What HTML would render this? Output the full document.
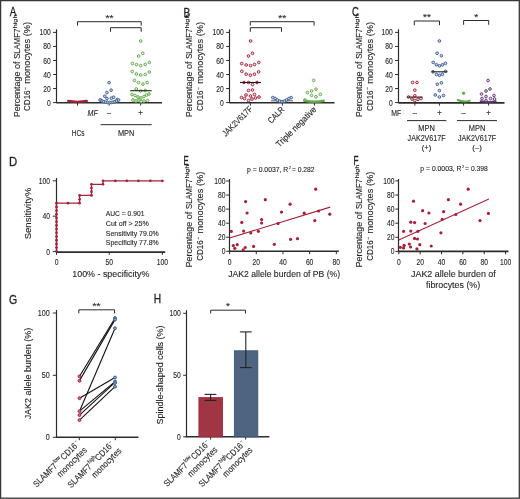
<!DOCTYPE html>
<html><head><meta charset="utf-8"><style>
html,body{margin:0;padding:0;background:#fff;}
svg{display:block;font-family:"Liberation Sans", sans-serif;will-change:transform;}
</style></head><body>
<svg width="520" height="499" viewBox="0 0 520 499">
<rect width="520" height="499" fill="#fff"/>
<rect x="0.6" y="0.6" width="518.7" height="497.6" fill="none" stroke="#363636" stroke-width="1.3"/>
<text x="9.80" y="16.42" font-size="12.2" fill="#231f20" stroke="#231f20" stroke-width="0.3" textLength="6.60" lengthAdjust="spacingAndGlyphs">A</text>
<g transform="translate(19.60,117.20) rotate(-90)"><text x="0.00" y="0.00" font-size="8.8" text-anchor="start" fill="#231f20" stroke="#231f20" stroke-width="0.12" textLength="55.60" lengthAdjust="spacingAndGlyphs">Percentage of</text><text x="58.40" y="0.00" font-size="8.8" text-anchor="start" fill="#231f20" stroke="#231f20" stroke-width="0.12" textLength="30.00" lengthAdjust="spacingAndGlyphs">SLAMF7</text><text x="88.80" y="-3.00" font-size="5.6" text-anchor="start" fill="#231f20" stroke="#231f20" stroke-width="0.12" textLength="14.00" lengthAdjust="spacingAndGlyphs">high</text></g>
<g transform="translate(30.40,111.00) rotate(-90)"><text x="0.00" y="0.00" font-size="8.8" text-anchor="start" fill="#231f20" stroke="#231f20" stroke-width="0.12" textLength="20.60" lengthAdjust="spacingAndGlyphs">CD16</text><text x="21.10" y="-3.40" font-size="5.5" text-anchor="start" fill="#231f20" stroke="#231f20" stroke-width="0.12" textLength="3.00" lengthAdjust="spacingAndGlyphs">−</text><text x="27.20" y="0.00" font-size="8.8" text-anchor="start" fill="#231f20" stroke="#231f20" stroke-width="0.12" textLength="62.00" lengthAdjust="spacingAndGlyphs">monocytes (%)</text></g>
<line x1="56.50" y1="29.30" x2="56.50" y2="103.10" stroke="#2b2b2b" stroke-width="1.2" />
<line x1="53.10" y1="102.60" x2="56.50" y2="102.60" stroke="#2b2b2b" stroke-width="1.0" />
<text x="50.70" y="105.62" font-size="8.4" text-anchor="end" fill="#231f20" stroke="#231f20" stroke-width="0.12" textLength="3.75" lengthAdjust="spacingAndGlyphs">0</text>
<line x1="53.10" y1="88.56" x2="56.50" y2="88.56" stroke="#2b2b2b" stroke-width="1.0" />
<text x="50.70" y="91.58" font-size="8.4" text-anchor="end" fill="#231f20" stroke="#231f20" stroke-width="0.12" textLength="7.50" lengthAdjust="spacingAndGlyphs">20</text>
<line x1="53.10" y1="74.52" x2="56.50" y2="74.52" stroke="#2b2b2b" stroke-width="1.0" />
<text x="50.70" y="77.54" font-size="8.4" text-anchor="end" fill="#231f20" stroke="#231f20" stroke-width="0.12" textLength="7.50" lengthAdjust="spacingAndGlyphs">40</text>
<line x1="53.10" y1="60.48" x2="56.50" y2="60.48" stroke="#2b2b2b" stroke-width="1.0" />
<text x="50.70" y="63.50" font-size="8.4" text-anchor="end" fill="#231f20" stroke="#231f20" stroke-width="0.12" textLength="7.50" lengthAdjust="spacingAndGlyphs">60</text>
<line x1="53.10" y1="46.44" x2="56.50" y2="46.44" stroke="#2b2b2b" stroke-width="1.0" />
<text x="50.70" y="49.46" font-size="8.4" text-anchor="end" fill="#231f20" stroke="#231f20" stroke-width="0.12" textLength="7.50" lengthAdjust="spacingAndGlyphs">80</text>
<line x1="53.10" y1="32.40" x2="56.50" y2="32.40" stroke="#2b2b2b" stroke-width="1.0" />
<text x="50.70" y="35.42" font-size="8.4" text-anchor="end" fill="#231f20" stroke="#231f20" stroke-width="0.12" textLength="11.25" lengthAdjust="spacingAndGlyphs">100</text>
<line x1="56.50" y1="102.80" x2="162.00" y2="102.80" stroke="#2b2b2b" stroke-width="1.6" />
<line x1="77.50" y1="102.80" x2="77.50" y2="105.60" stroke="#2b2b2b" stroke-width="1.0" />
<line x1="109.10" y1="102.80" x2="109.10" y2="105.60" stroke="#2b2b2b" stroke-width="1.0" />
<line x1="140.70" y1="102.80" x2="140.70" y2="105.60" stroke="#2b2b2b" stroke-width="1.0" />
<polyline points="77.50,25.60 77.50,21.70 141.20,21.70 141.20,25.60" stroke="#2b2b2b" stroke-width="1.0" fill="none"/>
<polyline points="110.50,31.80 110.50,27.70 141.20,27.70 141.20,31.80" stroke="#2b2b2b" stroke-width="1.0" fill="none"/>
<text x="109.50" y="21.24" font-size="9.0" text-anchor="middle" fill="#231f20" stroke="#231f20" stroke-width="0.12" textLength="8.00" lengthAdjust="spacingAndGlyphs">**</text>
<path d="M68.2,101.0 Q77.5,102.6 86.8,101.0" stroke="#a3223a" stroke-width="2.3" fill="none" stroke-linecap="round"/>
<circle cx="109.10" cy="82.60" r="1.35" stroke="#3f5e8e" stroke-width="0.95" fill="#c9d4e6"/>
<circle cx="111.10" cy="90.20" r="1.35" stroke="#3f5e8e" stroke-width="0.95" fill="#c9d4e6"/>
<circle cx="106.90" cy="92.50" r="1.35" stroke="#3f5e8e" stroke-width="0.95" fill="#c9d4e6"/>
<circle cx="104.80" cy="96.20" r="1.35" stroke="#3f5e8e" stroke-width="0.95" fill="#c9d4e6"/>
<circle cx="107.00" cy="98.60" r="1.35" stroke="#3f5e8e" stroke-width="0.95" fill="#c9d4e6"/>
<circle cx="111.40" cy="98.20" r="1.35" stroke="#3f5e8e" stroke-width="0.95" fill="#c9d4e6"/>
<circle cx="113.60" cy="97.20" r="1.35" stroke="#3f5e8e" stroke-width="0.95" fill="#c9d4e6"/>
<circle cx="117.30" cy="99.50" r="1.35" stroke="#3f5e8e" stroke-width="0.95" fill="#c9d4e6"/>
<circle cx="100.60" cy="100.00" r="1.35" stroke="#3f5e8e" stroke-width="0.95" fill="#c9d4e6"/>
<circle cx="100.20" cy="100.00" r="1.35" stroke="#3f5e8e" stroke-width="0.95" fill="#c9d4e6"/>
<circle cx="102.04" cy="101.02" r="1.35" stroke="#3f5e8e" stroke-width="0.95" fill="#c9d4e6"/>
<circle cx="103.88" cy="101.70" r="1.35" stroke="#3f5e8e" stroke-width="0.95" fill="#c9d4e6"/>
<circle cx="105.72" cy="102.19" r="1.35" stroke="#3f5e8e" stroke-width="0.95" fill="#c9d4e6"/>
<circle cx="107.56" cy="102.50" r="1.35" stroke="#3f5e8e" stroke-width="0.95" fill="#c9d4e6"/>
<circle cx="109.40" cy="102.60" r="1.35" stroke="#3f5e8e" stroke-width="0.95" fill="#c9d4e6"/>
<circle cx="111.24" cy="102.50" r="1.35" stroke="#3f5e8e" stroke-width="0.95" fill="#c9d4e6"/>
<circle cx="113.08" cy="102.19" r="1.35" stroke="#3f5e8e" stroke-width="0.95" fill="#c9d4e6"/>
<circle cx="114.92" cy="101.70" r="1.35" stroke="#3f5e8e" stroke-width="0.95" fill="#c9d4e6"/>
<circle cx="116.76" cy="101.02" r="1.35" stroke="#3f5e8e" stroke-width="0.95" fill="#c9d4e6"/>
<circle cx="118.60" cy="100.00" r="1.35" stroke="#3f5e8e" stroke-width="0.95" fill="#c9d4e6"/>
<circle cx="140.70" cy="41.00" r="1.35" stroke="#62a94c" stroke-width="0.95" fill="#e3f1dc"/>
<circle cx="142.80" cy="53.30" r="1.35" stroke="#62a94c" stroke-width="0.95" fill="#e3f1dc"/>
<circle cx="138.70" cy="56.00" r="1.35" stroke="#62a94c" stroke-width="0.95" fill="#e3f1dc"/>
<circle cx="132.40" cy="63.50" r="1.35" stroke="#62a94c" stroke-width="0.95" fill="#e3f1dc"/>
<circle cx="136.50" cy="64.70" r="1.35" stroke="#62a94c" stroke-width="0.95" fill="#e3f1dc"/>
<circle cx="140.70" cy="65.60" r="1.35" stroke="#62a94c" stroke-width="0.95" fill="#e3f1dc"/>
<circle cx="145.20" cy="64.40" r="1.35" stroke="#62a94c" stroke-width="0.95" fill="#e3f1dc"/>
<circle cx="149.30" cy="62.50" r="1.35" stroke="#62a94c" stroke-width="0.95" fill="#e3f1dc"/>
<circle cx="132.20" cy="71.50" r="1.35" stroke="#62a94c" stroke-width="0.95" fill="#e3f1dc"/>
<circle cx="136.40" cy="74.00" r="1.35" stroke="#62a94c" stroke-width="0.95" fill="#e3f1dc"/>
<circle cx="140.70" cy="75.00" r="1.35" stroke="#62a94c" stroke-width="0.95" fill="#e3f1dc"/>
<circle cx="145.20" cy="74.50" r="1.35" stroke="#62a94c" stroke-width="0.95" fill="#e3f1dc"/>
<circle cx="149.30" cy="72.00" r="1.35" stroke="#62a94c" stroke-width="0.95" fill="#e3f1dc"/>
<circle cx="134.40" cy="80.30" r="1.35" stroke="#62a94c" stroke-width="0.95" fill="#e3f1dc"/>
<circle cx="138.50" cy="82.60" r="1.35" stroke="#62a94c" stroke-width="0.95" fill="#e3f1dc"/>
<circle cx="143.00" cy="84.20" r="1.35" stroke="#62a94c" stroke-width="0.95" fill="#e3f1dc"/>
<circle cx="147.10" cy="82.60" r="1.35" stroke="#62a94c" stroke-width="0.95" fill="#e3f1dc"/>
<circle cx="136.30" cy="89.00" r="1.35" stroke="#62a94c" stroke-width="0.95" fill="#e3f1dc"/>
<circle cx="140.70" cy="91.00" r="1.35" stroke="#62a94c" stroke-width="0.95" fill="#e3f1dc"/>
<circle cx="145.20" cy="90.50" r="1.35" stroke="#62a94c" stroke-width="0.95" fill="#e3f1dc"/>
<circle cx="132.00" cy="94.50" r="1.35" stroke="#62a94c" stroke-width="0.95" fill="#e3f1dc"/>
<circle cx="135.00" cy="95.50" r="1.35" stroke="#62a94c" stroke-width="0.95" fill="#e3f1dc"/>
<circle cx="138.00" cy="97.00" r="1.35" stroke="#62a94c" stroke-width="0.95" fill="#e3f1dc"/>
<circle cx="141.00" cy="98.00" r="1.35" stroke="#62a94c" stroke-width="0.95" fill="#e3f1dc"/>
<circle cx="144.00" cy="96.50" r="1.35" stroke="#62a94c" stroke-width="0.95" fill="#e3f1dc"/>
<circle cx="146.50" cy="95.00" r="1.35" stroke="#62a94c" stroke-width="0.95" fill="#e3f1dc"/>
<circle cx="149.00" cy="94.00" r="1.35" stroke="#62a94c" stroke-width="0.95" fill="#e3f1dc"/>
<circle cx="133.00" cy="100.00" r="1.35" stroke="#62a94c" stroke-width="0.95" fill="#e3f1dc"/>
<circle cx="136.00" cy="101.00" r="1.35" stroke="#62a94c" stroke-width="0.95" fill="#e3f1dc"/>
<circle cx="139.00" cy="100.00" r="1.35" stroke="#62a94c" stroke-width="0.95" fill="#e3f1dc"/>
<circle cx="141.00" cy="101.50" r="1.35" stroke="#62a94c" stroke-width="0.95" fill="#e3f1dc"/>
<circle cx="144.00" cy="101.00" r="1.35" stroke="#62a94c" stroke-width="0.95" fill="#e3f1dc"/>
<circle cx="147.50" cy="100.50" r="1.35" stroke="#62a94c" stroke-width="0.95" fill="#e3f1dc"/>
<line x1="130.20" y1="90.70" x2="151.60" y2="90.70" stroke="#1e1e1e" stroke-width="1.1" />
<text x="87.60" y="116.00" font-size="8.6" text-anchor="start" fill="#231f20" font-style="italic" stroke="#231f20" stroke-width="0.12" textLength="10.20" lengthAdjust="spacingAndGlyphs">MF</text>
<text x="109.10" y="116.30" font-size="8.6" text-anchor="middle" fill="#231f20" stroke="#231f20" stroke-width="0.12" textLength="4.00" lengthAdjust="spacingAndGlyphs">–</text>
<text x="140.60" y="116.30" font-size="8.6" text-anchor="middle" fill="#231f20" stroke="#231f20" stroke-width="0.12" textLength="4.60" lengthAdjust="spacingAndGlyphs">+</text>
<line x1="100.60" y1="124.70" x2="151.70" y2="124.70" stroke="#2b2b2b" stroke-width="1.0" />
<text x="78.10" y="135.57" font-size="8.8" text-anchor="middle" fill="#231f20" stroke="#231f20" stroke-width="0.12" textLength="12.80" lengthAdjust="spacingAndGlyphs">HCs</text>
<text x="126.10" y="135.57" font-size="8.8" text-anchor="middle" fill="#231f20" stroke="#231f20" stroke-width="0.12" textLength="16.40" lengthAdjust="spacingAndGlyphs">MPN</text>
<text x="183.40" y="16.72" font-size="12.2" fill="#231f20" stroke="#231f20" stroke-width="0.3" textLength="6.80" lengthAdjust="spacingAndGlyphs">B</text>
<g transform="translate(192.20,117.20) rotate(-90)"><text x="0.00" y="0.00" font-size="8.8" text-anchor="start" fill="#231f20" stroke="#231f20" stroke-width="0.12" textLength="55.60" lengthAdjust="spacingAndGlyphs">Percentage of</text><text x="58.40" y="0.00" font-size="8.8" text-anchor="start" fill="#231f20" stroke="#231f20" stroke-width="0.12" textLength="30.00" lengthAdjust="spacingAndGlyphs">SLAMF7</text><text x="88.80" y="-3.00" font-size="5.6" text-anchor="start" fill="#231f20" stroke="#231f20" stroke-width="0.12" textLength="14.00" lengthAdjust="spacingAndGlyphs">high</text></g>
<g transform="translate(203.40,111.00) rotate(-90)"><text x="0.00" y="0.00" font-size="8.8" text-anchor="start" fill="#231f20" stroke="#231f20" stroke-width="0.12" textLength="20.60" lengthAdjust="spacingAndGlyphs">CD16</text><text x="21.10" y="-3.40" font-size="5.5" text-anchor="start" fill="#231f20" stroke="#231f20" stroke-width="0.12" textLength="3.00" lengthAdjust="spacingAndGlyphs">−</text><text x="27.20" y="0.00" font-size="8.8" text-anchor="start" fill="#231f20" stroke="#231f20" stroke-width="0.12" textLength="62.00" lengthAdjust="spacingAndGlyphs">monocytes (%)</text></g>
<line x1="229.50" y1="29.30" x2="229.50" y2="103.10" stroke="#2b2b2b" stroke-width="1.2" />
<line x1="226.10" y1="102.60" x2="229.50" y2="102.60" stroke="#2b2b2b" stroke-width="1.0" />
<text x="223.70" y="105.62" font-size="8.4" text-anchor="end" fill="#231f20" stroke="#231f20" stroke-width="0.12" textLength="3.75" lengthAdjust="spacingAndGlyphs">0</text>
<line x1="226.10" y1="88.56" x2="229.50" y2="88.56" stroke="#2b2b2b" stroke-width="1.0" />
<text x="223.70" y="91.58" font-size="8.4" text-anchor="end" fill="#231f20" stroke="#231f20" stroke-width="0.12" textLength="7.50" lengthAdjust="spacingAndGlyphs">20</text>
<line x1="226.10" y1="74.52" x2="229.50" y2="74.52" stroke="#2b2b2b" stroke-width="1.0" />
<text x="223.70" y="77.54" font-size="8.4" text-anchor="end" fill="#231f20" stroke="#231f20" stroke-width="0.12" textLength="7.50" lengthAdjust="spacingAndGlyphs">40</text>
<line x1="226.10" y1="60.48" x2="229.50" y2="60.48" stroke="#2b2b2b" stroke-width="1.0" />
<text x="223.70" y="63.50" font-size="8.4" text-anchor="end" fill="#231f20" stroke="#231f20" stroke-width="0.12" textLength="7.50" lengthAdjust="spacingAndGlyphs">60</text>
<line x1="226.10" y1="46.44" x2="229.50" y2="46.44" stroke="#2b2b2b" stroke-width="1.0" />
<text x="223.70" y="49.46" font-size="8.4" text-anchor="end" fill="#231f20" stroke="#231f20" stroke-width="0.12" textLength="7.50" lengthAdjust="spacingAndGlyphs">80</text>
<line x1="226.10" y1="32.40" x2="229.50" y2="32.40" stroke="#2b2b2b" stroke-width="1.0" />
<text x="223.70" y="35.42" font-size="8.4" text-anchor="end" fill="#231f20" stroke="#231f20" stroke-width="0.12" textLength="11.25" lengthAdjust="spacingAndGlyphs">100</text>
<line x1="229.50" y1="102.80" x2="334.50" y2="102.80" stroke="#2b2b2b" stroke-width="1.6" />
<line x1="250.40" y1="102.80" x2="250.40" y2="105.60" stroke="#2b2b2b" stroke-width="1.0" />
<line x1="282.40" y1="102.80" x2="282.40" y2="105.60" stroke="#2b2b2b" stroke-width="1.0" />
<line x1="314.40" y1="102.80" x2="314.40" y2="105.60" stroke="#2b2b2b" stroke-width="1.0" />
<polyline points="250.30,25.60 250.30,21.70 314.10,21.70 314.10,25.60" stroke="#2b2b2b" stroke-width="1.0" fill="none"/>
<polyline points="250.30,31.80 250.30,27.70 281.50,27.70 281.50,31.80" stroke="#2b2b2b" stroke-width="1.0" fill="none"/>
<text x="282.20" y="21.24" font-size="9.0" text-anchor="middle" fill="#231f20" stroke="#231f20" stroke-width="0.12" textLength="8.00" lengthAdjust="spacingAndGlyphs">**</text>
<circle cx="250.60" cy="41.00" r="1.35" stroke="#a3223a" stroke-width="0.95" fill="#f0d6da"/>
<circle cx="252.50" cy="53.30" r="1.35" stroke="#a3223a" stroke-width="0.95" fill="#f0d6da"/>
<circle cx="248.50" cy="56.00" r="1.35" stroke="#a3223a" stroke-width="0.95" fill="#f0d6da"/>
<circle cx="241.70" cy="63.60" r="1.35" stroke="#a3223a" stroke-width="0.95" fill="#f0d6da"/>
<circle cx="246.20" cy="65.00" r="1.35" stroke="#a3223a" stroke-width="0.95" fill="#f0d6da"/>
<circle cx="250.60" cy="65.60" r="1.35" stroke="#a3223a" stroke-width="0.95" fill="#f0d6da"/>
<circle cx="254.50" cy="64.50" r="1.35" stroke="#a3223a" stroke-width="0.95" fill="#f0d6da"/>
<circle cx="258.80" cy="62.50" r="1.35" stroke="#a3223a" stroke-width="0.95" fill="#f0d6da"/>
<circle cx="241.80" cy="71.30" r="1.35" stroke="#a3223a" stroke-width="0.95" fill="#f0d6da"/>
<circle cx="246.20" cy="74.20" r="1.35" stroke="#a3223a" stroke-width="0.95" fill="#f0d6da"/>
<circle cx="250.40" cy="75.20" r="1.35" stroke="#a3223a" stroke-width="0.95" fill="#f0d6da"/>
<circle cx="254.50" cy="74.20" r="1.35" stroke="#a3223a" stroke-width="0.95" fill="#f0d6da"/>
<circle cx="258.60" cy="71.90" r="1.35" stroke="#a3223a" stroke-width="0.95" fill="#f0d6da"/>
<circle cx="244.00" cy="82.50" r="1.35" stroke="#a3223a" stroke-width="0.95" fill="#f0d6da"/>
<circle cx="248.60" cy="82.50" r="1.35" stroke="#a3223a" stroke-width="0.95" fill="#f0d6da"/>
<circle cx="252.50" cy="84.50" r="1.35" stroke="#a3223a" stroke-width="0.95" fill="#f0d6da"/>
<circle cx="257.00" cy="82.50" r="1.35" stroke="#a3223a" stroke-width="0.95" fill="#f0d6da"/>
<circle cx="248.50" cy="90.50" r="1.35" stroke="#a3223a" stroke-width="0.95" fill="#f0d6da"/>
<circle cx="252.50" cy="90.00" r="1.35" stroke="#a3223a" stroke-width="0.95" fill="#f0d6da"/>
<circle cx="246.00" cy="95.00" r="1.35" stroke="#a3223a" stroke-width="0.95" fill="#f0d6da"/>
<circle cx="250.50" cy="96.00" r="1.35" stroke="#a3223a" stroke-width="0.95" fill="#f0d6da"/>
<circle cx="254.50" cy="94.50" r="1.35" stroke="#a3223a" stroke-width="0.95" fill="#f0d6da"/>
<circle cx="241.50" cy="97.50" r="1.35" stroke="#a3223a" stroke-width="0.95" fill="#f0d6da"/>
<circle cx="244.50" cy="98.50" r="1.35" stroke="#a3223a" stroke-width="0.95" fill="#f0d6da"/>
<circle cx="248.50" cy="100.50" r="1.35" stroke="#a3223a" stroke-width="0.95" fill="#f0d6da"/>
<circle cx="252.00" cy="99.00" r="1.35" stroke="#a3223a" stroke-width="0.95" fill="#f0d6da"/>
<circle cx="255.50" cy="98.00" r="1.35" stroke="#a3223a" stroke-width="0.95" fill="#f0d6da"/>
<circle cx="259.00" cy="97.00" r="1.35" stroke="#a3223a" stroke-width="0.95" fill="#f0d6da"/>
<line x1="240.00" y1="82.50" x2="261.00" y2="82.50" stroke="#1e1e1e" stroke-width="1.1" />
<line x1="271.00" y1="100.80" x2="293.00" y2="100.80" stroke="#6a6a6a" stroke-width="1.1" />
<circle cx="272.80" cy="97.60" r="1.35" stroke="#3f5e8e" stroke-width="0.95" fill="#c9d4e6"/>
<circle cx="275.10" cy="98.55" r="1.35" stroke="#3f5e8e" stroke-width="0.95" fill="#c9d4e6"/>
<circle cx="277.40" cy="99.98" r="1.35" stroke="#3f5e8e" stroke-width="0.95" fill="#c9d4e6"/>
<circle cx="279.70" cy="101.15" r="1.35" stroke="#3f5e8e" stroke-width="0.95" fill="#c9d4e6"/>
<circle cx="282.00" cy="101.60" r="1.35" stroke="#3f5e8e" stroke-width="0.95" fill="#c9d4e6"/>
<circle cx="284.30" cy="101.15" r="1.35" stroke="#3f5e8e" stroke-width="0.95" fill="#c9d4e6"/>
<circle cx="286.60" cy="99.98" r="1.35" stroke="#3f5e8e" stroke-width="0.95" fill="#c9d4e6"/>
<circle cx="288.90" cy="98.55" r="1.35" stroke="#3f5e8e" stroke-width="0.95" fill="#c9d4e6"/>
<circle cx="291.20" cy="97.60" r="1.35" stroke="#3f5e8e" stroke-width="0.95" fill="#c9d4e6"/>
<circle cx="313.70" cy="80.40" r="1.35" stroke="#62a94c" stroke-width="0.95" fill="#e3f1dc"/>
<circle cx="307.40" cy="92.60" r="1.35" stroke="#62a94c" stroke-width="0.95" fill="#e3f1dc"/>
<circle cx="311.60" cy="91.00" r="1.35" stroke="#62a94c" stroke-width="0.95" fill="#e3f1dc"/>
<circle cx="316.00" cy="89.20" r="1.35" stroke="#62a94c" stroke-width="0.95" fill="#e3f1dc"/>
<circle cx="311.60" cy="95.40" r="1.35" stroke="#62a94c" stroke-width="0.95" fill="#e3f1dc"/>
<circle cx="316.00" cy="96.80" r="1.35" stroke="#62a94c" stroke-width="0.95" fill="#e3f1dc"/>
<circle cx="320.30" cy="94.40" r="1.35" stroke="#62a94c" stroke-width="0.95" fill="#e3f1dc"/>
<circle cx="305.00" cy="100.00" r="1.35" stroke="#62a94c" stroke-width="0.95" fill="#e3f1dc"/>
<path d="M304.2,100.6 Q314,102.8 323.8,100.8" stroke="#62a94c" stroke-width="2.4" fill="none" stroke-linecap="round"/>
<g transform="translate(250.90,107.50) rotate(-45)"><text x="0.00" y="3.04" font-size="8.8" text-anchor="end" fill="#231f20" stroke="#231f20" stroke-width="0.12" textLength="38.60" lengthAdjust="spacingAndGlyphs">JAK2V617F</text></g>
<g transform="translate(282.80,108.10) rotate(-45)"><text x="0.00" y="3.04" font-size="8.8" text-anchor="end" fill="#231f20" stroke="#231f20" stroke-width="0.12" textLength="19.50" lengthAdjust="spacingAndGlyphs">CALR</text></g>
<g transform="translate(314.80,108.00) rotate(-45)"><text x="0.00" y="3.04" font-size="8.8" text-anchor="end" fill="#231f20" stroke="#231f20" stroke-width="0.12" textLength="53.00" lengthAdjust="spacingAndGlyphs">Triple negative</text></g>
<text x="352.00" y="16.42" font-size="12.2" fill="#231f20" stroke="#231f20" stroke-width="0.3" textLength="6.80" lengthAdjust="spacingAndGlyphs">C</text>
<g transform="translate(361.60,117.20) rotate(-90)"><text x="0.00" y="0.00" font-size="8.8" text-anchor="start" fill="#231f20" stroke="#231f20" stroke-width="0.12" textLength="55.60" lengthAdjust="spacingAndGlyphs">Percentage of</text><text x="58.40" y="0.00" font-size="8.8" text-anchor="start" fill="#231f20" stroke="#231f20" stroke-width="0.12" textLength="30.00" lengthAdjust="spacingAndGlyphs">SLAMF7</text><text x="88.80" y="-3.00" font-size="5.6" text-anchor="start" fill="#231f20" stroke="#231f20" stroke-width="0.12" textLength="14.00" lengthAdjust="spacingAndGlyphs">high</text></g>
<g transform="translate(372.80,111.00) rotate(-90)"><text x="0.00" y="0.00" font-size="8.8" text-anchor="start" fill="#231f20" stroke="#231f20" stroke-width="0.12" textLength="20.60" lengthAdjust="spacingAndGlyphs">CD16</text><text x="21.10" y="-3.40" font-size="5.5" text-anchor="start" fill="#231f20" stroke="#231f20" stroke-width="0.12" textLength="3.00" lengthAdjust="spacingAndGlyphs">−</text><text x="27.20" y="0.00" font-size="8.8" text-anchor="start" fill="#231f20" stroke="#231f20" stroke-width="0.12" textLength="62.00" lengthAdjust="spacingAndGlyphs">monocytes (%)</text></g>
<line x1="398.50" y1="29.30" x2="398.50" y2="103.10" stroke="#2b2b2b" stroke-width="1.2" />
<line x1="395.10" y1="102.60" x2="398.50" y2="102.60" stroke="#2b2b2b" stroke-width="1.0" />
<text x="392.70" y="105.62" font-size="8.4" text-anchor="end" fill="#231f20" stroke="#231f20" stroke-width="0.12" textLength="3.75" lengthAdjust="spacingAndGlyphs">0</text>
<line x1="395.10" y1="88.56" x2="398.50" y2="88.56" stroke="#2b2b2b" stroke-width="1.0" />
<text x="392.70" y="91.58" font-size="8.4" text-anchor="end" fill="#231f20" stroke="#231f20" stroke-width="0.12" textLength="7.50" lengthAdjust="spacingAndGlyphs">20</text>
<line x1="395.10" y1="74.52" x2="398.50" y2="74.52" stroke="#2b2b2b" stroke-width="1.0" />
<text x="392.70" y="77.54" font-size="8.4" text-anchor="end" fill="#231f20" stroke="#231f20" stroke-width="0.12" textLength="7.50" lengthAdjust="spacingAndGlyphs">40</text>
<line x1="395.10" y1="60.48" x2="398.50" y2="60.48" stroke="#2b2b2b" stroke-width="1.0" />
<text x="392.70" y="63.50" font-size="8.4" text-anchor="end" fill="#231f20" stroke="#231f20" stroke-width="0.12" textLength="7.50" lengthAdjust="spacingAndGlyphs">60</text>
<line x1="395.10" y1="46.44" x2="398.50" y2="46.44" stroke="#2b2b2b" stroke-width="1.0" />
<text x="392.70" y="49.46" font-size="8.4" text-anchor="end" fill="#231f20" stroke="#231f20" stroke-width="0.12" textLength="7.50" lengthAdjust="spacingAndGlyphs">80</text>
<line x1="395.10" y1="32.40" x2="398.50" y2="32.40" stroke="#2b2b2b" stroke-width="1.0" />
<text x="392.70" y="35.42" font-size="8.4" text-anchor="end" fill="#231f20" stroke="#231f20" stroke-width="0.12" textLength="11.25" lengthAdjust="spacingAndGlyphs">100</text>
<line x1="398.50" y1="102.90" x2="504.50" y2="102.90" stroke="#2b2b2b" stroke-width="1.6" />
<line x1="414.80" y1="102.90" x2="414.80" y2="105.60" stroke="#2b2b2b" stroke-width="1.0" />
<line x1="439.40" y1="102.90" x2="439.40" y2="105.60" stroke="#2b2b2b" stroke-width="1.0" />
<line x1="463.60" y1="102.90" x2="463.60" y2="105.60" stroke="#2b2b2b" stroke-width="1.0" />
<line x1="488.60" y1="102.90" x2="488.60" y2="105.60" stroke="#2b2b2b" stroke-width="1.0" />
<polyline points="414.30,25.20 414.30,21.00 439.50,21.00 439.50,25.20" stroke="#2b2b2b" stroke-width="1.0" fill="none"/>
<text x="427.00" y="20.34" font-size="9.0" text-anchor="middle" fill="#231f20" stroke="#231f20" stroke-width="0.12" textLength="8.00" lengthAdjust="spacingAndGlyphs">**</text>
<polyline points="463.60,24.80 463.60,20.50 488.70,20.50 488.70,24.80" stroke="#2b2b2b" stroke-width="1.0" fill="none"/>
<text x="476.20" y="19.84" font-size="9.0" text-anchor="middle" fill="#231f20" stroke="#231f20" stroke-width="0.12" textLength="4.00" lengthAdjust="spacingAndGlyphs">*</text>
<circle cx="412.60" cy="82.50" r="1.35" stroke="#a3223a" stroke-width="0.95" fill="#f0d6da"/>
<circle cx="417.00" cy="82.50" r="1.35" stroke="#a3223a" stroke-width="0.95" fill="#f0d6da"/>
<circle cx="414.80" cy="90.20" r="1.35" stroke="#a3223a" stroke-width="0.95" fill="#f0d6da"/>
<circle cx="414.80" cy="95.80" r="1.35" stroke="#a3223a" stroke-width="0.95" fill="#f0d6da"/>
<circle cx="408.50" cy="97.00" r="1.35" stroke="#a3223a" stroke-width="0.95" fill="#f0d6da"/>
<circle cx="412.00" cy="99.00" r="1.35" stroke="#a3223a" stroke-width="0.95" fill="#f0d6da"/>
<circle cx="414.80" cy="100.50" r="1.35" stroke="#a3223a" stroke-width="0.95" fill="#f0d6da"/>
<circle cx="418.00" cy="99.30" r="1.35" stroke="#a3223a" stroke-width="0.95" fill="#f0d6da"/>
<circle cx="421.00" cy="98.50" r="1.35" stroke="#a3223a" stroke-width="0.95" fill="#f0d6da"/>
<line x1="407.20" y1="97.10" x2="422.60" y2="97.10" stroke="#1e1e1e" stroke-width="1.1" />
<circle cx="439.40" cy="41.00" r="1.35" stroke="#3f5e8e" stroke-width="0.95" fill="#c9d4e6"/>
<circle cx="437.10" cy="53.30" r="1.35" stroke="#3f5e8e" stroke-width="0.95" fill="#c9d4e6"/>
<circle cx="441.40" cy="55.80" r="1.35" stroke="#3f5e8e" stroke-width="0.95" fill="#c9d4e6"/>
<circle cx="433.20" cy="62.40" r="1.35" stroke="#3f5e8e" stroke-width="0.95" fill="#c9d4e6"/>
<circle cx="436.40" cy="64.80" r="1.35" stroke="#3f5e8e" stroke-width="0.95" fill="#c9d4e6"/>
<circle cx="439.40" cy="65.80" r="1.35" stroke="#3f5e8e" stroke-width="0.95" fill="#c9d4e6"/>
<circle cx="442.40" cy="64.80" r="1.35" stroke="#3f5e8e" stroke-width="0.95" fill="#c9d4e6"/>
<circle cx="445.40" cy="63.30" r="1.35" stroke="#3f5e8e" stroke-width="0.95" fill="#c9d4e6"/>
<circle cx="433.00" cy="71.80" r="1.35" stroke="#3f5e8e" stroke-width="0.95" fill="#c9d4e6"/>
<circle cx="445.50" cy="71.30" r="1.35" stroke="#3f5e8e" stroke-width="0.95" fill="#c9d4e6"/>
<circle cx="436.40" cy="74.50" r="1.35" stroke="#3f5e8e" stroke-width="0.95" fill="#c9d4e6"/>
<circle cx="439.40" cy="75.30" r="1.35" stroke="#3f5e8e" stroke-width="0.95" fill="#c9d4e6"/>
<circle cx="442.40" cy="74.30" r="1.35" stroke="#3f5e8e" stroke-width="0.95" fill="#c9d4e6"/>
<circle cx="437.30" cy="84.30" r="1.35" stroke="#3f5e8e" stroke-width="0.95" fill="#c9d4e6"/>
<circle cx="441.40" cy="82.80" r="1.35" stroke="#3f5e8e" stroke-width="0.95" fill="#c9d4e6"/>
<circle cx="439.40" cy="90.60" r="1.35" stroke="#3f5e8e" stroke-width="0.95" fill="#c9d4e6"/>
<circle cx="435.30" cy="95.00" r="1.35" stroke="#3f5e8e" stroke-width="0.95" fill="#c9d4e6"/>
<circle cx="439.40" cy="97.00" r="1.35" stroke="#3f5e8e" stroke-width="0.95" fill="#c9d4e6"/>
<circle cx="443.50" cy="95.50" r="1.35" stroke="#3f5e8e" stroke-width="0.95" fill="#c9d4e6"/>
<line x1="431.60" y1="71.80" x2="447.40" y2="71.80" stroke="#1e1e1e" stroke-width="1.1" />
<circle cx="463.60" cy="93.20" r="1.6" fill="#62a94c"/>
<path d="M457.8,100.0 Q463.6,102.8 469.8,100.6" stroke="#62a94c" stroke-width="2.0" fill="none" stroke-linecap="round"/>
<circle cx="488.00" cy="80.50" r="1.35" stroke="#663a78" stroke-width="0.95" fill="#e2d6e6"/>
<circle cx="486.00" cy="91.00" r="1.35" stroke="#663a78" stroke-width="0.95" fill="#e2d6e6"/>
<circle cx="490.00" cy="89.00" r="1.35" stroke="#663a78" stroke-width="0.95" fill="#e2d6e6"/>
<circle cx="481.50" cy="94.00" r="1.35" stroke="#663a78" stroke-width="0.95" fill="#e2d6e6"/>
<circle cx="486.00" cy="96.50" r="1.35" stroke="#663a78" stroke-width="0.95" fill="#e2d6e6"/>
<circle cx="494.00" cy="95.50" r="1.35" stroke="#663a78" stroke-width="0.95" fill="#e2d6e6"/>
<circle cx="482.00" cy="98.50" r="1.35" stroke="#663a78" stroke-width="0.95" fill="#e2d6e6"/>
<circle cx="490.50" cy="98.50" r="1.35" stroke="#663a78" stroke-width="0.95" fill="#e2d6e6"/>
<circle cx="494.50" cy="99.00" r="1.35" stroke="#663a78" stroke-width="0.95" fill="#e2d6e6"/>
<circle cx="486.00" cy="100.50" r="1.35" stroke="#663a78" stroke-width="0.95" fill="#e2d6e6"/>
<path d="M480.5,101.2 Q488.6,102.8 495.8,101.2" stroke="#663a78" stroke-width="1.8" fill="none" stroke-linecap="round"/>
<text x="391.30" y="116.10" font-size="8.6" text-anchor="start" fill="#231f20" stroke="#231f20" stroke-width="0.12" textLength="10.00" lengthAdjust="spacingAndGlyphs">MF</text>
<text x="414.80" y="116.10" font-size="8.6" text-anchor="middle" fill="#231f20" stroke="#231f20" stroke-width="0.12" textLength="4.50" lengthAdjust="spacingAndGlyphs">–</text>
<text x="439.40" y="116.10" font-size="8.6" text-anchor="middle" fill="#231f20" stroke="#231f20" stroke-width="0.12" textLength="4.50" lengthAdjust="spacingAndGlyphs">+</text>
<text x="463.60" y="116.10" font-size="8.6" text-anchor="middle" fill="#231f20" stroke="#231f20" stroke-width="0.12" textLength="4.50" lengthAdjust="spacingAndGlyphs">–</text>
<text x="488.60" y="116.10" font-size="8.6" text-anchor="middle" fill="#231f20" stroke="#231f20" stroke-width="0.12" textLength="4.50" lengthAdjust="spacingAndGlyphs">+</text>
<line x1="407.00" y1="120.60" x2="446.30" y2="120.60" stroke="#2b2b2b" stroke-width="1.0" />
<line x1="457.00" y1="120.60" x2="497.00" y2="120.60" stroke="#2b2b2b" stroke-width="1.0" />
<text x="426.60" y="130.77" font-size="8.8" text-anchor="middle" fill="#231f20" stroke="#231f20" stroke-width="0.12" textLength="16.50" lengthAdjust="spacingAndGlyphs">MPN</text>
<text x="426.60" y="141.17" font-size="8.8" text-anchor="middle" fill="#231f20" stroke="#231f20" stroke-width="0.12" textLength="38.00" lengthAdjust="spacingAndGlyphs">JAK2V617F</text>
<text x="426.60" y="150.19" font-size="7.2" text-anchor="middle" fill="#231f20" stroke="#231f20" stroke-width="0.12" textLength="9.60" lengthAdjust="spacingAndGlyphs">(+)</text>
<text x="477.00" y="130.77" font-size="8.8" text-anchor="middle" fill="#231f20" stroke="#231f20" stroke-width="0.12" textLength="16.50" lengthAdjust="spacingAndGlyphs">MPN</text>
<text x="477.00" y="141.17" font-size="8.8" text-anchor="middle" fill="#231f20" stroke="#231f20" stroke-width="0.12" textLength="38.00" lengthAdjust="spacingAndGlyphs">JAK2V617F</text>
<text x="477.00" y="150.19" font-size="7.2" text-anchor="middle" fill="#231f20" stroke="#231f20" stroke-width="0.12" textLength="9.60" lengthAdjust="spacingAndGlyphs">(–)</text>
<text x="8.90" y="166.42" font-size="12.2" fill="#231f20" stroke="#231f20" stroke-width="0.3" textLength="8.20" lengthAdjust="spacingAndGlyphs">D</text>
<line x1="56.50" y1="178.00" x2="56.50" y2="252.40" stroke="#2b2b2b" stroke-width="1.2" />
<line x1="56.50" y1="252.10" x2="165.20" y2="252.10" stroke="#2b2b2b" stroke-width="1.6" />
<line x1="52.80" y1="180.80" x2="56.50" y2="180.80" stroke="#2b2b2b" stroke-width="1.0" />
<text x="50.00" y="183.82" font-size="8.4" text-anchor="end" fill="#231f20" stroke="#231f20" stroke-width="0.12" textLength="11.25" lengthAdjust="spacingAndGlyphs">100</text>
<line x1="52.80" y1="216.20" x2="56.50" y2="216.20" stroke="#2b2b2b" stroke-width="1.0" />
<text x="50.00" y="219.22" font-size="8.4" text-anchor="end" fill="#231f20" stroke="#231f20" stroke-width="0.12" textLength="7.50" lengthAdjust="spacingAndGlyphs">40</text>
<line x1="52.80" y1="251.60" x2="56.50" y2="251.60" stroke="#2b2b2b" stroke-width="1.0" />
<text x="50.00" y="254.62" font-size="8.4" text-anchor="end" fill="#231f20" stroke="#231f20" stroke-width="0.12" textLength="3.75" lengthAdjust="spacingAndGlyphs">0</text>
<line x1="56.50" y1="252.10" x2="56.50" y2="254.80" stroke="#2b2b2b" stroke-width="1.0" />
<text x="56.50" y="265.22" font-size="8.4" text-anchor="middle" fill="#231f20" stroke="#231f20" stroke-width="0.12" textLength="3.75" lengthAdjust="spacingAndGlyphs">0</text>
<line x1="109.30" y1="252.10" x2="109.30" y2="254.80" stroke="#2b2b2b" stroke-width="1.0" />
<text x="109.30" y="265.22" font-size="8.4" text-anchor="middle" fill="#231f20" stroke="#231f20" stroke-width="0.12" textLength="7.50" lengthAdjust="spacingAndGlyphs">50</text>
<line x1="162.40" y1="252.10" x2="162.40" y2="254.80" stroke="#2b2b2b" stroke-width="1.0" />
<text x="162.40" y="265.22" font-size="8.4" text-anchor="middle" fill="#231f20" stroke="#231f20" stroke-width="0.12" textLength="11.25" lengthAdjust="spacingAndGlyphs">100</text>
<text x="110.80" y="276.66" font-size="9.6" text-anchor="middle" fill="#231f20" stroke="#231f20" stroke-width="0.12" textLength="77.00" lengthAdjust="spacingAndGlyphs">100% - specificity%</text>
<g transform="translate(31.40,213.60) rotate(-90)"><text x="0.00" y="0.00" font-size="9.6" text-anchor="middle" fill="#231f20" stroke="#231f20" stroke-width="0.12" textLength="51.50" lengthAdjust="spacingAndGlyphs">Sensitivity%</text></g>
<polyline points="56.50,251.30 56.50,203.20 79.60,203.20 79.60,195.40 91.50,195.40 91.50,184.30 103.00,184.30 103.00,180.80 162.40,180.80" stroke="#a3223a" stroke-width="1.3" fill="none"/>
<circle cx="56.50" cy="251.30" r="1.35" fill="#a3223a"/>
<circle cx="56.50" cy="247.60" r="1.35" fill="#a3223a"/>
<circle cx="56.50" cy="243.90" r="1.35" fill="#a3223a"/>
<circle cx="56.50" cy="240.20" r="1.35" fill="#a3223a"/>
<circle cx="56.50" cy="236.50" r="1.35" fill="#a3223a"/>
<circle cx="56.50" cy="232.80" r="1.35" fill="#a3223a"/>
<circle cx="56.50" cy="229.10" r="1.35" fill="#a3223a"/>
<circle cx="56.50" cy="225.40" r="1.35" fill="#a3223a"/>
<circle cx="56.50" cy="221.70" r="1.35" fill="#a3223a"/>
<circle cx="56.50" cy="218.00" r="1.35" fill="#a3223a"/>
<circle cx="56.50" cy="214.30" r="1.35" fill="#a3223a"/>
<circle cx="56.50" cy="210.60" r="1.35" fill="#a3223a"/>
<circle cx="56.50" cy="206.90" r="1.35" fill="#a3223a"/>
<circle cx="56.50" cy="203.20" r="1.35" fill="#a3223a"/>
<circle cx="68.00" cy="203.20" r="1.35" fill="#a3223a"/>
<circle cx="79.60" cy="203.20" r="1.35" fill="#a3223a"/>
<circle cx="79.60" cy="199.30" r="1.35" fill="#a3223a"/>
<circle cx="79.60" cy="195.40" r="1.35" fill="#a3223a"/>
<circle cx="91.50" cy="195.40" r="1.35" fill="#a3223a"/>
<circle cx="91.50" cy="191.70" r="1.35" fill="#a3223a"/>
<circle cx="91.50" cy="188.00" r="1.35" fill="#a3223a"/>
<circle cx="91.50" cy="184.30" r="1.35" fill="#a3223a"/>
<circle cx="103.00" cy="184.30" r="1.35" fill="#a3223a"/>
<circle cx="103.00" cy="180.80" r="1.35" fill="#a3223a"/>
<circle cx="115.30" cy="180.80" r="1.35" fill="#a3223a"/>
<circle cx="126.80" cy="180.80" r="1.35" fill="#a3223a"/>
<circle cx="138.40" cy="180.80" r="1.35" fill="#a3223a"/>
<circle cx="150.40" cy="180.80" r="1.35" fill="#a3223a"/>
<circle cx="162.40" cy="180.80" r="1.35" fill="#a3223a"/>
<text x="105.80" y="216.18" font-size="8.0" text-anchor="start" fill="#231f20" stroke="#231f20" stroke-width="0.12" textLength="38.60" lengthAdjust="spacingAndGlyphs">AUC = 0.901</text>
<text x="105.80" y="225.93" font-size="8.0" text-anchor="start" fill="#231f20" stroke="#231f20" stroke-width="0.12" textLength="43.00" lengthAdjust="spacingAndGlyphs">Cut off &gt; 25%</text>
<text x="105.80" y="235.68" font-size="8.0" text-anchor="start" fill="#231f20" stroke="#231f20" stroke-width="0.12" textLength="53.00" lengthAdjust="spacingAndGlyphs">Sensitivity 79.0%</text>
<text x="105.80" y="245.43" font-size="8.0" text-anchor="start" fill="#231f20" stroke="#231f20" stroke-width="0.12" textLength="53.00" lengthAdjust="spacingAndGlyphs">Specificity 77.8%</text>
<text x="183.40" y="165.42" font-size="12.2" fill="#231f20" stroke="#231f20" stroke-width="0.3" textLength="5.20" lengthAdjust="spacingAndGlyphs">E</text>
<g transform="translate(192.40,267.40) rotate(-90)"><text x="0.00" y="0.00" font-size="8.8" text-anchor="start" fill="#231f20" stroke="#231f20" stroke-width="0.12" textLength="55.60" lengthAdjust="spacingAndGlyphs">Percentage of</text><text x="58.40" y="0.00" font-size="8.8" text-anchor="start" fill="#231f20" stroke="#231f20" stroke-width="0.12" textLength="30.00" lengthAdjust="spacingAndGlyphs">SLAMF7</text><text x="88.80" y="-3.00" font-size="5.6" text-anchor="start" fill="#231f20" stroke="#231f20" stroke-width="0.12" textLength="14.00" lengthAdjust="spacingAndGlyphs">high</text></g>
<g transform="translate(203.40,260.80) rotate(-90)"><text x="0.00" y="0.00" font-size="8.8" text-anchor="start" fill="#231f20" stroke="#231f20" stroke-width="0.12" textLength="20.60" lengthAdjust="spacingAndGlyphs">CD16</text><text x="21.10" y="-3.40" font-size="5.5" text-anchor="start" fill="#231f20" stroke="#231f20" stroke-width="0.12" textLength="3.00" lengthAdjust="spacingAndGlyphs">−</text><text x="27.20" y="0.00" font-size="8.8" text-anchor="start" fill="#231f20" stroke="#231f20" stroke-width="0.12" textLength="62.00" lengthAdjust="spacingAndGlyphs">monocytes (%)</text></g>
<line x1="229.50" y1="179.00" x2="229.50" y2="251.80" stroke="#2b2b2b" stroke-width="1.2" />
<line x1="229.50" y1="251.30" x2="338.80" y2="251.30" stroke="#2b2b2b" stroke-width="1.6" />
<line x1="226.20" y1="251.30" x2="229.50" y2="251.30" stroke="#2b2b2b" stroke-width="1.0" />
<text x="225.40" y="254.32" font-size="8.4" text-anchor="end" fill="#231f20" stroke="#231f20" stroke-width="0.12" textLength="3.75" lengthAdjust="spacingAndGlyphs">0</text>
<line x1="226.20" y1="237.24" x2="229.50" y2="237.24" stroke="#2b2b2b" stroke-width="1.0" />
<text x="225.40" y="240.26" font-size="8.4" text-anchor="end" fill="#231f20" stroke="#231f20" stroke-width="0.12" textLength="7.50" lengthAdjust="spacingAndGlyphs">20</text>
<line x1="226.20" y1="223.18" x2="229.50" y2="223.18" stroke="#2b2b2b" stroke-width="1.0" />
<text x="225.40" y="226.20" font-size="8.4" text-anchor="end" fill="#231f20" stroke="#231f20" stroke-width="0.12" textLength="7.50" lengthAdjust="spacingAndGlyphs">40</text>
<line x1="226.20" y1="209.12" x2="229.50" y2="209.12" stroke="#2b2b2b" stroke-width="1.0" />
<text x="225.40" y="212.14" font-size="8.4" text-anchor="end" fill="#231f20" stroke="#231f20" stroke-width="0.12" textLength="7.50" lengthAdjust="spacingAndGlyphs">60</text>
<line x1="226.20" y1="195.06" x2="229.50" y2="195.06" stroke="#2b2b2b" stroke-width="1.0" />
<text x="225.40" y="198.08" font-size="8.4" text-anchor="end" fill="#231f20" stroke="#231f20" stroke-width="0.12" textLength="7.50" lengthAdjust="spacingAndGlyphs">80</text>
<line x1="226.20" y1="181.00" x2="229.50" y2="181.00" stroke="#2b2b2b" stroke-width="1.0" />
<text x="225.40" y="184.02" font-size="8.4" text-anchor="end" fill="#231f20" stroke="#231f20" stroke-width="0.12" textLength="11.25" lengthAdjust="spacingAndGlyphs">100</text>
<line x1="229.60" y1="251.30" x2="229.60" y2="254.20" stroke="#2b2b2b" stroke-width="1.0" />
<text x="229.60" y="265.22" font-size="8.4" text-anchor="middle" fill="#231f20" stroke="#231f20" stroke-width="0.12" textLength="3.75" lengthAdjust="spacingAndGlyphs">0</text>
<line x1="256.28" y1="251.30" x2="256.28" y2="254.20" stroke="#2b2b2b" stroke-width="1.0" />
<text x="256.28" y="265.22" font-size="8.4" text-anchor="middle" fill="#231f20" stroke="#231f20" stroke-width="0.12" textLength="7.50" lengthAdjust="spacingAndGlyphs">20</text>
<line x1="282.96" y1="251.30" x2="282.96" y2="254.20" stroke="#2b2b2b" stroke-width="1.0" />
<text x="282.96" y="265.22" font-size="8.4" text-anchor="middle" fill="#231f20" stroke="#231f20" stroke-width="0.12" textLength="7.50" lengthAdjust="spacingAndGlyphs">40</text>
<line x1="309.64" y1="251.30" x2="309.64" y2="254.20" stroke="#2b2b2b" stroke-width="1.0" />
<text x="309.64" y="265.22" font-size="8.4" text-anchor="middle" fill="#231f20" stroke="#231f20" stroke-width="0.12" textLength="7.50" lengthAdjust="spacingAndGlyphs">60</text>
<line x1="336.32" y1="251.30" x2="336.32" y2="254.20" stroke="#2b2b2b" stroke-width="1.0" />
<text x="336.32" y="265.22" font-size="8.4" text-anchor="middle" fill="#231f20" stroke="#231f20" stroke-width="0.12" textLength="7.50" lengthAdjust="spacingAndGlyphs">80</text>
<text x="247.10" y="171.60" font-size="7.5" text-anchor="start" fill="#231f20" stroke="#231f20" stroke-width="0.12" textLength="41.20" lengthAdjust="spacingAndGlyphs">p = 0.0037, R</text>
<text x="288.70" y="168.50" font-size="4.4" text-anchor="start" fill="#231f20" stroke="#231f20" stroke-width="0.12" textLength="2.20" lengthAdjust="spacingAndGlyphs">2</text>
<text x="291.90" y="171.60" font-size="7.5" text-anchor="start" fill="#231f20" stroke="#231f20" stroke-width="0.12" textLength="22.60" lengthAdjust="spacingAndGlyphs"> = 0.282</text>
<line x1="229.60" y1="238.00" x2="330.20" y2="207.10" stroke="#a3223a" stroke-width="1.1" />
<circle cx="231.30" cy="231.40" r="1.6" fill="#a3223a"/>
<circle cx="233.30" cy="245.60" r="1.6" fill="#a3223a"/>
<circle cx="234.80" cy="248.30" r="1.6" fill="#a3223a"/>
<circle cx="237.20" cy="244.70" r="1.6" fill="#a3223a"/>
<circle cx="243.20" cy="249.80" r="1.6" fill="#a3223a"/>
<circle cx="245.20" cy="247.50" r="1.6" fill="#a3223a"/>
<circle cx="243.60" cy="231.10" r="1.6" fill="#a3223a"/>
<circle cx="241.80" cy="222.40" r="1.6" fill="#a3223a"/>
<circle cx="245.60" cy="201.60" r="1.6" fill="#a3223a"/>
<circle cx="247.10" cy="213.00" r="1.6" fill="#a3223a"/>
<circle cx="250.80" cy="233.00" r="1.6" fill="#a3223a"/>
<circle cx="253.60" cy="246.40" r="1.6" fill="#a3223a"/>
<circle cx="258.40" cy="231.30" r="1.6" fill="#a3223a"/>
<circle cx="261.60" cy="219.60" r="1.6" fill="#a3223a"/>
<circle cx="261.60" cy="223.00" r="1.6" fill="#a3223a"/>
<circle cx="265.30" cy="199.70" r="1.6" fill="#a3223a"/>
<circle cx="274.30" cy="244.30" r="1.6" fill="#a3223a"/>
<circle cx="278.00" cy="223.60" r="1.6" fill="#a3223a"/>
<circle cx="281.50" cy="212.10" r="1.6" fill="#a3223a"/>
<circle cx="290.10" cy="204.20" r="1.6" fill="#a3223a"/>
<circle cx="290.60" cy="239.30" r="1.6" fill="#a3223a"/>
<circle cx="297.50" cy="238.70" r="1.6" fill="#a3223a"/>
<circle cx="304.20" cy="213.20" r="1.6" fill="#a3223a"/>
<circle cx="314.80" cy="220.60" r="1.6" fill="#a3223a"/>
<circle cx="315.70" cy="189.20" r="1.6" fill="#a3223a"/>
<circle cx="318.60" cy="211.00" r="1.6" fill="#a3223a"/>
<circle cx="329.80" cy="214.20" r="1.6" fill="#a3223a"/>
<text x="284.20" y="276.56" font-size="9.6" text-anchor="middle" fill="#231f20" stroke="#231f20" stroke-width="0.12" textLength="112.00" lengthAdjust="spacingAndGlyphs">JAK2 allele burden of PB (%)</text>
<text x="353.40" y="165.42" font-size="12.2" fill="#231f20" stroke="#231f20" stroke-width="0.3" textLength="5.00" lengthAdjust="spacingAndGlyphs">F</text>
<g transform="translate(361.80,267.40) rotate(-90)"><text x="0.00" y="0.00" font-size="8.8" text-anchor="start" fill="#231f20" stroke="#231f20" stroke-width="0.12" textLength="55.60" lengthAdjust="spacingAndGlyphs">Percentage of</text><text x="58.40" y="0.00" font-size="8.8" text-anchor="start" fill="#231f20" stroke="#231f20" stroke-width="0.12" textLength="30.00" lengthAdjust="spacingAndGlyphs">SLAMF7</text><text x="88.80" y="-3.00" font-size="5.6" text-anchor="start" fill="#231f20" stroke="#231f20" stroke-width="0.12" textLength="14.00" lengthAdjust="spacingAndGlyphs">high</text></g>
<g transform="translate(373.00,260.80) rotate(-90)"><text x="0.00" y="0.00" font-size="8.8" text-anchor="start" fill="#231f20" stroke="#231f20" stroke-width="0.12" textLength="20.60" lengthAdjust="spacingAndGlyphs">CD16</text><text x="21.10" y="-3.40" font-size="5.5" text-anchor="start" fill="#231f20" stroke="#231f20" stroke-width="0.12" textLength="3.00" lengthAdjust="spacingAndGlyphs">−</text><text x="27.20" y="0.00" font-size="8.8" text-anchor="start" fill="#231f20" stroke="#231f20" stroke-width="0.12" textLength="62.00" lengthAdjust="spacingAndGlyphs">monocytes (%)</text></g>
<line x1="398.50" y1="179.00" x2="398.50" y2="251.90" stroke="#2b2b2b" stroke-width="1.2" />
<line x1="398.50" y1="251.40" x2="508.50" y2="251.40" stroke="#2b2b2b" stroke-width="1.6" />
<line x1="395.40" y1="251.40" x2="398.50" y2="251.40" stroke="#2b2b2b" stroke-width="1.0" />
<text x="394.60" y="254.42" font-size="8.4" text-anchor="end" fill="#231f20" stroke="#231f20" stroke-width="0.12" textLength="3.75" lengthAdjust="spacingAndGlyphs">0</text>
<line x1="395.40" y1="237.30" x2="398.50" y2="237.30" stroke="#2b2b2b" stroke-width="1.0" />
<text x="394.60" y="240.32" font-size="8.4" text-anchor="end" fill="#231f20" stroke="#231f20" stroke-width="0.12" textLength="7.50" lengthAdjust="spacingAndGlyphs">20</text>
<line x1="395.40" y1="223.20" x2="398.50" y2="223.20" stroke="#2b2b2b" stroke-width="1.0" />
<text x="394.60" y="226.22" font-size="8.4" text-anchor="end" fill="#231f20" stroke="#231f20" stroke-width="0.12" textLength="7.50" lengthAdjust="spacingAndGlyphs">40</text>
<line x1="395.40" y1="209.10" x2="398.50" y2="209.10" stroke="#2b2b2b" stroke-width="1.0" />
<text x="394.60" y="212.12" font-size="8.4" text-anchor="end" fill="#231f20" stroke="#231f20" stroke-width="0.12" textLength="7.50" lengthAdjust="spacingAndGlyphs">60</text>
<line x1="395.40" y1="195.00" x2="398.50" y2="195.00" stroke="#2b2b2b" stroke-width="1.0" />
<text x="394.60" y="198.02" font-size="8.4" text-anchor="end" fill="#231f20" stroke="#231f20" stroke-width="0.12" textLength="7.50" lengthAdjust="spacingAndGlyphs">80</text>
<line x1="395.40" y1="180.90" x2="398.50" y2="180.90" stroke="#2b2b2b" stroke-width="1.0" />
<text x="394.60" y="183.92" font-size="8.4" text-anchor="end" fill="#231f20" stroke="#231f20" stroke-width="0.12" textLength="11.25" lengthAdjust="spacingAndGlyphs">100</text>
<line x1="398.80" y1="251.40" x2="398.80" y2="254.30" stroke="#2b2b2b" stroke-width="1.0" />
<text x="398.80" y="265.02" font-size="8.4" text-anchor="middle" fill="#231f20" stroke="#231f20" stroke-width="0.12" textLength="3.75" lengthAdjust="spacingAndGlyphs">0</text>
<line x1="420.16" y1="251.40" x2="420.16" y2="254.30" stroke="#2b2b2b" stroke-width="1.0" />
<text x="420.16" y="265.02" font-size="8.4" text-anchor="middle" fill="#231f20" stroke="#231f20" stroke-width="0.12" textLength="7.50" lengthAdjust="spacingAndGlyphs">20</text>
<line x1="441.52" y1="251.40" x2="441.52" y2="254.30" stroke="#2b2b2b" stroke-width="1.0" />
<text x="441.52" y="265.02" font-size="8.4" text-anchor="middle" fill="#231f20" stroke="#231f20" stroke-width="0.12" textLength="7.50" lengthAdjust="spacingAndGlyphs">40</text>
<line x1="462.88" y1="251.40" x2="462.88" y2="254.30" stroke="#2b2b2b" stroke-width="1.0" />
<text x="462.88" y="265.02" font-size="8.4" text-anchor="middle" fill="#231f20" stroke="#231f20" stroke-width="0.12" textLength="7.50" lengthAdjust="spacingAndGlyphs">60</text>
<line x1="484.24" y1="251.40" x2="484.24" y2="254.30" stroke="#2b2b2b" stroke-width="1.0" />
<text x="484.24" y="265.02" font-size="8.4" text-anchor="middle" fill="#231f20" stroke="#231f20" stroke-width="0.12" textLength="7.50" lengthAdjust="spacingAndGlyphs">80</text>
<line x1="505.60" y1="251.40" x2="505.60" y2="254.30" stroke="#2b2b2b" stroke-width="1.0" />
<text x="505.60" y="265.02" font-size="8.4" text-anchor="middle" fill="#231f20" stroke="#231f20" stroke-width="0.12" textLength="11.25" lengthAdjust="spacingAndGlyphs">100</text>
<text x="420.30" y="171.40" font-size="7.5" text-anchor="start" fill="#231f20" stroke="#231f20" stroke-width="0.12" textLength="41.20" lengthAdjust="spacingAndGlyphs">p = 0.0003, R</text>
<text x="461.90" y="168.30" font-size="4.4" text-anchor="start" fill="#231f20" stroke="#231f20" stroke-width="0.12" textLength="2.20" lengthAdjust="spacingAndGlyphs">2</text>
<text x="465.10" y="171.40" font-size="7.5" text-anchor="start" fill="#231f20" stroke="#231f20" stroke-width="0.12" textLength="22.60" lengthAdjust="spacingAndGlyphs"> = 0.398</text>
<line x1="398.80" y1="239.90" x2="488.90" y2="199.10" stroke="#a3223a" stroke-width="1.1" />
<circle cx="400.30" cy="247.30" r="1.6" fill="#a3223a"/>
<circle cx="403.60" cy="247.90" r="1.6" fill="#a3223a"/>
<circle cx="404.10" cy="245.40" r="1.6" fill="#a3223a"/>
<circle cx="403.60" cy="231.30" r="1.6" fill="#a3223a"/>
<circle cx="409.30" cy="244.10" r="1.6" fill="#a3223a"/>
<circle cx="410.60" cy="247.00" r="1.6" fill="#a3223a"/>
<circle cx="410.80" cy="222.20" r="1.6" fill="#a3223a"/>
<circle cx="410.80" cy="231.10" r="1.6" fill="#a3223a"/>
<circle cx="413.50" cy="201.20" r="1.6" fill="#a3223a"/>
<circle cx="414.60" cy="222.60" r="1.6" fill="#a3223a"/>
<circle cx="414.60" cy="238.40" r="1.6" fill="#a3223a"/>
<circle cx="416.90" cy="248.90" r="1.6" fill="#a3223a"/>
<circle cx="417.50" cy="239.00" r="1.6" fill="#a3223a"/>
<circle cx="417.90" cy="231.30" r="1.6" fill="#a3223a"/>
<circle cx="419.80" cy="244.70" r="1.6" fill="#a3223a"/>
<circle cx="422.60" cy="210.70" r="1.6" fill="#a3223a"/>
<circle cx="425.10" cy="223.50" r="1.6" fill="#a3223a"/>
<circle cx="428.90" cy="213.00" r="1.6" fill="#a3223a"/>
<circle cx="431.20" cy="246.00" r="1.6" fill="#a3223a"/>
<circle cx="440.90" cy="232.80" r="1.6" fill="#a3223a"/>
<circle cx="442.30" cy="219.30" r="1.6" fill="#a3223a"/>
<circle cx="443.60" cy="211.70" r="1.6" fill="#a3223a"/>
<circle cx="448.40" cy="199.70" r="1.6" fill="#a3223a"/>
<circle cx="455.80" cy="214.50" r="1.6" fill="#a3223a"/>
<circle cx="460.60" cy="204.20" r="1.6" fill="#a3223a"/>
<circle cx="468.20" cy="189.20" r="1.6" fill="#a3223a"/>
<circle cx="480.00" cy="220.60" r="1.6" fill="#a3223a"/>
<circle cx="488.40" cy="213.40" r="1.6" fill="#a3223a"/>
<text x="453.40" y="276.56" font-size="9.6" text-anchor="middle" fill="#231f20" stroke="#231f20" stroke-width="0.12" textLength="84.80" lengthAdjust="spacingAndGlyphs">JAK2 allele burden of</text>
<text x="453.10" y="287.66" font-size="9.6" text-anchor="middle" fill="#231f20" stroke="#231f20" stroke-width="0.12" textLength="54.20" lengthAdjust="spacingAndGlyphs">fibrocytes (%)</text>
<text x="8.90" y="304.22" font-size="12.2" fill="#231f20" stroke="#231f20" stroke-width="0.3" textLength="8.20" lengthAdjust="spacingAndGlyphs">G</text>
<line x1="56.50" y1="310.00" x2="56.50" y2="437.80" stroke="#2b2b2b" stroke-width="1.2" />
<line x1="56.50" y1="437.30" x2="138.40" y2="437.30" stroke="#2b2b2b" stroke-width="1.6" />
<line x1="52.80" y1="313.00" x2="56.50" y2="313.00" stroke="#2b2b2b" stroke-width="1.0" />
<text x="49.80" y="316.02" font-size="8.4" text-anchor="end" fill="#231f20" stroke="#231f20" stroke-width="0.12" textLength="12.00" lengthAdjust="spacingAndGlyphs">100</text>
<line x1="52.80" y1="375.30" x2="56.50" y2="375.30" stroke="#2b2b2b" stroke-width="1.0" />
<text x="49.80" y="378.32" font-size="8.4" text-anchor="end" fill="#231f20" stroke="#231f20" stroke-width="0.12" textLength="8.00" lengthAdjust="spacingAndGlyphs">50</text>
<line x1="52.80" y1="437.30" x2="56.50" y2="437.30" stroke="#2b2b2b" stroke-width="1.0" />
<text x="49.80" y="440.32" font-size="8.4" text-anchor="end" fill="#231f20" stroke="#231f20" stroke-width="0.12" textLength="4.00" lengthAdjust="spacingAndGlyphs">0</text>
<line x1="79.30" y1="437.30" x2="79.30" y2="440.20" stroke="#2b2b2b" stroke-width="1.0" />
<line x1="115.30" y1="437.30" x2="115.30" y2="440.20" stroke="#2b2b2b" stroke-width="1.0" />
<g transform="translate(31.00,373.60) rotate(-90)"><text x="0.00" y="0.00" font-size="9.4" text-anchor="middle" fill="#231f20" stroke="#231f20" stroke-width="0.12" textLength="91.50" lengthAdjust="spacingAndGlyphs">JAK2 allele burden (%)</text></g>
<polyline points="78.80,313.40 78.80,309.80 114.60,309.80 114.60,313.40" stroke="#2b2b2b" stroke-width="1.0" fill="none"/>
<text x="96.60" y="309.04" font-size="9.0" text-anchor="middle" fill="#231f20" stroke="#231f20" stroke-width="0.12" textLength="8.00" lengthAdjust="spacingAndGlyphs">**</text>
<line x1="79.50" y1="376.20" x2="115.00" y2="318.20" stroke="#111" stroke-width="1.1" />
<line x1="79.50" y1="380.60" x2="115.00" y2="319.60" stroke="#111" stroke-width="1.1" />
<line x1="79.50" y1="398.20" x2="115.00" y2="377.50" stroke="#111" stroke-width="1.1" />
<line x1="79.50" y1="411.20" x2="115.00" y2="328.30" stroke="#111" stroke-width="1.1" />
<line x1="79.50" y1="411.20" x2="115.00" y2="381.70" stroke="#111" stroke-width="1.1" />
<line x1="79.50" y1="415.10" x2="115.00" y2="382.40" stroke="#111" stroke-width="1.1" />
<line x1="79.50" y1="420.10" x2="115.00" y2="386.70" stroke="#111" stroke-width="1.1" />
<circle cx="79.50" cy="376.40" r="1.45" stroke="#a3223a" stroke-width="1.0" fill="#c9707e"/>
<circle cx="79.50" cy="380.80" r="1.45" stroke="#a3223a" stroke-width="1.0" fill="#c9707e"/>
<circle cx="79.50" cy="398.20" r="1.45" stroke="#a3223a" stroke-width="1.0" fill="#c9707e"/>
<circle cx="79.50" cy="411.20" r="1.45" stroke="#a3223a" stroke-width="1.0" fill="#c9707e"/>
<circle cx="79.50" cy="415.10" r="1.45" stroke="#a3223a" stroke-width="1.0" fill="#c9707e"/>
<circle cx="79.50" cy="420.10" r="1.45" stroke="#a3223a" stroke-width="1.0" fill="#c9707e"/>
<circle cx="115.00" cy="318.00" r="1.45" stroke="#3f5e8e" stroke-width="1.0" fill="#8aa3c8"/>
<circle cx="115.00" cy="319.60" r="1.45" stroke="#3f5e8e" stroke-width="1.0" fill="#8aa3c8"/>
<circle cx="115.00" cy="328.30" r="1.45" stroke="#3f5e8e" stroke-width="1.0" fill="#8aa3c8"/>
<circle cx="115.00" cy="377.50" r="1.45" stroke="#3f5e8e" stroke-width="1.0" fill="#8aa3c8"/>
<circle cx="115.00" cy="381.50" r="1.45" stroke="#3f5e8e" stroke-width="1.0" fill="#8aa3c8"/>
<circle cx="115.00" cy="383.00" r="1.45" stroke="#3f5e8e" stroke-width="1.0" fill="#8aa3c8"/>
<circle cx="115.00" cy="386.70" r="1.45" stroke="#3f5e8e" stroke-width="1.0" fill="#8aa3c8"/>
<g transform="translate(76.90,443.30) rotate(-45)"><text x="-59.80" y="3.00" font-size="9.0" text-anchor="start" fill="#231f20" stroke="#231f20" stroke-width="0.12" textLength="29.60" lengthAdjust="spacingAndGlyphs">SLAMF7</text><text x="-29.40" y="-1.20" font-size="5.6" text-anchor="start" fill="#231f20" stroke="#231f20" stroke-width="0.12" textLength="7.60" lengthAdjust="spacingAndGlyphs">low</text><text x="-21.30" y="3.00" font-size="9.0" text-anchor="start" fill="#231f20" stroke="#231f20" stroke-width="0.12" textLength="19.60" lengthAdjust="spacingAndGlyphs">CD16</text><text x="-1.00" y="-0.60" font-size="5.0" text-anchor="start" fill="#231f20" stroke="#231f20" stroke-width="0.12" textLength="2.60" lengthAdjust="spacingAndGlyphs">−</text></g>
<g transform="translate(85.46,448.60) rotate(-45)"><text x="0.00" y="3.00" font-size="9.0" text-anchor="end" fill="#231f20" stroke="#231f20" stroke-width="0.12" textLength="38.40" lengthAdjust="spacingAndGlyphs">monocytes</text></g>
<g transform="translate(111.40,444.00) rotate(-45)"><text x="-59.80" y="3.00" font-size="9.0" text-anchor="start" fill="#231f20" stroke="#231f20" stroke-width="0.12" textLength="29.60" lengthAdjust="spacingAndGlyphs">SLAMF7</text><text x="-29.40" y="-1.20" font-size="5.6" text-anchor="start" fill="#231f20" stroke="#231f20" stroke-width="0.12" textLength="8.80" lengthAdjust="spacingAndGlyphs">high</text><text x="-21.30" y="3.00" font-size="9.0" text-anchor="start" fill="#231f20" stroke="#231f20" stroke-width="0.12" textLength="19.60" lengthAdjust="spacingAndGlyphs">CD16</text><text x="-1.00" y="-0.60" font-size="5.0" text-anchor="start" fill="#231f20" stroke="#231f20" stroke-width="0.12" textLength="2.60" lengthAdjust="spacingAndGlyphs">−</text></g>
<g transform="translate(119.96,449.30) rotate(-45)"><text x="0.00" y="3.00" font-size="9.0" text-anchor="end" fill="#231f20" stroke="#231f20" stroke-width="0.12" textLength="38.40" lengthAdjust="spacingAndGlyphs">monocytes</text></g>
<text x="153.80" y="303.32" font-size="12.2" fill="#231f20" stroke="#231f20" stroke-width="0.3" textLength="7.40" lengthAdjust="spacingAndGlyphs">H</text>
<line x1="186.50" y1="310.20" x2="186.50" y2="437.20" stroke="#2b2b2b" stroke-width="1.2" />
<line x1="185.60" y1="436.80" x2="269.30" y2="436.80" stroke="#2b2b2b" stroke-width="1.6" />
<line x1="183.20" y1="313.30" x2="186.50" y2="313.30" stroke="#2b2b2b" stroke-width="1.0" />
<text x="180.70" y="316.32" font-size="8.4" text-anchor="end" fill="#231f20" stroke="#231f20" stroke-width="0.12" textLength="11.25" lengthAdjust="spacingAndGlyphs">100</text>
<line x1="183.20" y1="375.30" x2="186.50" y2="375.30" stroke="#2b2b2b" stroke-width="1.0" />
<text x="180.70" y="378.32" font-size="8.4" text-anchor="end" fill="#231f20" stroke="#231f20" stroke-width="0.12" textLength="7.50" lengthAdjust="spacingAndGlyphs">50</text>
<line x1="183.20" y1="436.80" x2="186.50" y2="436.80" stroke="#2b2b2b" stroke-width="1.0" />
<text x="180.70" y="439.82" font-size="8.4" text-anchor="end" fill="#231f20" stroke="#231f20" stroke-width="0.12" textLength="3.75" lengthAdjust="spacingAndGlyphs">0</text>
<line x1="210.60" y1="436.80" x2="210.60" y2="439.60" stroke="#2b2b2b" stroke-width="1.0" />
<line x1="245.60" y1="436.80" x2="245.60" y2="439.60" stroke="#2b2b2b" stroke-width="1.0" />
<g transform="translate(162.60,375.00) rotate(-90)"><text x="0.00" y="0.00" font-size="9.2" text-anchor="middle" fill="#231f20" stroke="#231f20" stroke-width="0.12" textLength="99.00" lengthAdjust="spacingAndGlyphs">Spindle-shaped cells (%)</text></g>
<rect x="198.9" y="397.6" width="23.6" height="39.2" fill="#a03543" stroke="#b0283e" stroke-width="0.9"/>
<rect x="234.4" y="350.8" width="23.4" height="86.0" fill="#4e6481" stroke="#3f5678" stroke-width="0.9"/>
<line x1="210.60" y1="394.40" x2="210.60" y2="400.40" stroke="#222" stroke-width="1.1" />
<line x1="204.60" y1="394.40" x2="216.40" y2="394.40" stroke="#222" stroke-width="1.1" />
<line x1="204.60" y1="400.40" x2="216.40" y2="400.40" stroke="#222" stroke-width="1.1" />
<line x1="245.80" y1="331.90" x2="245.80" y2="367.60" stroke="#222" stroke-width="1.1" />
<line x1="239.90" y1="331.90" x2="251.70" y2="331.90" stroke="#222" stroke-width="1.1" />
<line x1="239.90" y1="367.60" x2="251.70" y2="367.60" stroke="#222" stroke-width="1.1" />
<polyline points="210.70,313.50 210.70,310.20 245.50,310.20 245.50,313.50" stroke="#2b2b2b" stroke-width="1.0" fill="none"/>
<text x="228.00" y="308.84" font-size="9.0" text-anchor="middle" fill="#231f20" stroke="#231f20" stroke-width="0.12" textLength="4.00" lengthAdjust="spacingAndGlyphs">*</text>
<g transform="translate(207.40,442.90) rotate(-45)"><text x="-59.80" y="3.00" font-size="9.0" text-anchor="start" fill="#231f20" stroke="#231f20" stroke-width="0.12" textLength="29.60" lengthAdjust="spacingAndGlyphs">SLAMF7</text><text x="-29.40" y="-1.20" font-size="5.6" text-anchor="start" fill="#231f20" stroke="#231f20" stroke-width="0.12" textLength="7.60" lengthAdjust="spacingAndGlyphs">low</text><text x="-21.30" y="3.00" font-size="9.0" text-anchor="start" fill="#231f20" stroke="#231f20" stroke-width="0.12" textLength="19.60" lengthAdjust="spacingAndGlyphs">CD16</text><text x="-1.00" y="-0.60" font-size="5.0" text-anchor="start" fill="#231f20" stroke="#231f20" stroke-width="0.12" textLength="2.60" lengthAdjust="spacingAndGlyphs">−</text></g>
<g transform="translate(215.96,448.20) rotate(-45)"><text x="0.00" y="3.00" font-size="9.0" text-anchor="end" fill="#231f20" stroke="#231f20" stroke-width="0.12" textLength="38.40" lengthAdjust="spacingAndGlyphs">monocytes</text></g>
<g transform="translate(242.50,443.20) rotate(-45)"><text x="-59.80" y="3.00" font-size="9.0" text-anchor="start" fill="#231f20" stroke="#231f20" stroke-width="0.12" textLength="29.60" lengthAdjust="spacingAndGlyphs">SLAMF7</text><text x="-29.40" y="-1.20" font-size="5.6" text-anchor="start" fill="#231f20" stroke="#231f20" stroke-width="0.12" textLength="8.80" lengthAdjust="spacingAndGlyphs">high</text><text x="-21.30" y="3.00" font-size="9.0" text-anchor="start" fill="#231f20" stroke="#231f20" stroke-width="0.12" textLength="19.60" lengthAdjust="spacingAndGlyphs">CD16</text><text x="-1.00" y="-0.60" font-size="5.0" text-anchor="start" fill="#231f20" stroke="#231f20" stroke-width="0.12" textLength="2.60" lengthAdjust="spacingAndGlyphs">−</text></g>
<g transform="translate(251.06,448.50) rotate(-45)"><text x="0.00" y="3.00" font-size="9.0" text-anchor="end" fill="#231f20" stroke="#231f20" stroke-width="0.12" textLength="38.40" lengthAdjust="spacingAndGlyphs">monocytes</text></g>
</svg></body></html>
